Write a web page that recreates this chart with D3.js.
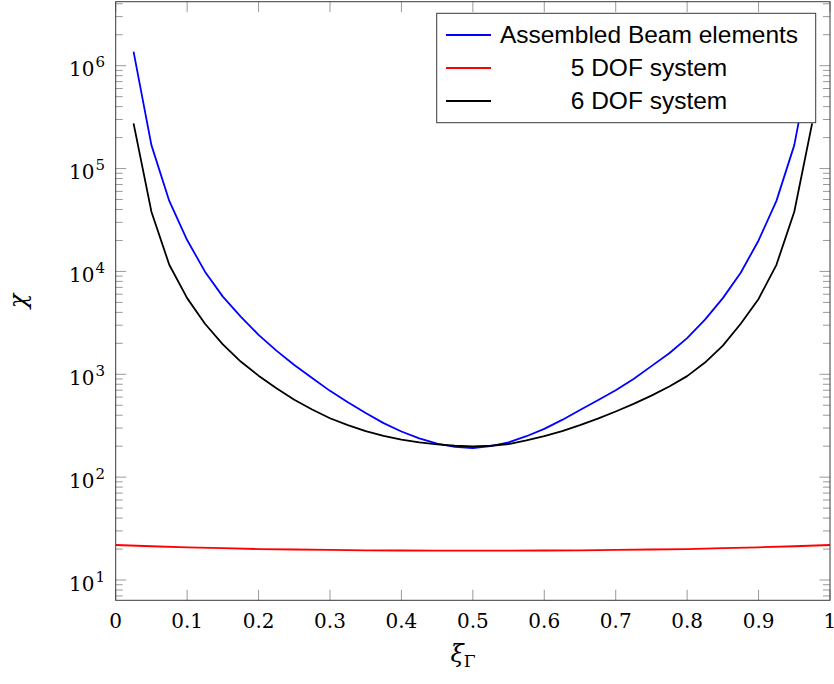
<!DOCTYPE html>
<html>
<head>
<meta charset="utf-8">
<script src="https://cdn.jsdelivr.net/npm/d3@7"></script>
<style>
  html, body { margin: 0; padding: 0; background: #fff; }
  svg { display: block; }
</style>
</head>
<body>
<div id="chart"></div>
<script>
// xi positions of the beam / 6 DOF curves
const xiBeam = [0.025, 0.05, 0.075, 0.1, 0.125, 0.15, 0.175, 0.2, 0.225, 0.25,
  0.275, 0.3, 0.325, 0.35, 0.375, 0.4, 0.425, 0.45, 0.475, 0.5,
  0.525, 0.55, 0.575, 0.6, 0.625, 0.65, 0.675, 0.7, 0.725, 0.75,
  0.775, 0.8, 0.825, 0.85, 0.875, 0.9, 0.925, 0.95, 0.975];
const beamValues = [1.37e6, 1.69e5, 4.84e4, 2.02e4, 9950, 5690, 3640, 2420, 1700, 1230,
  920, 690, 535, 420, 335, 278, 238, 212, 197, 192,
  200, 218, 250, 295, 360, 450, 560, 700, 900, 1200,
  1600, 2250, 3400, 5500, 9700, 2.0e4, 4.85e4, 1.69e5, 1.37e6];
const sixDofValues = [2.75e5, 3.81e4, 1.16e4, 5500, 3100, 1950, 1330, 970, 730, 565,
  455, 374, 320, 280, 252, 232, 218, 208, 202, 199,
  202, 210, 228, 250, 280, 320, 370, 435, 515, 620,
  760, 960, 1300, 1900, 3100, 5400, 1.16e4, 3.8e4, 2.75e5];
// 5 DOF curve
const xiFive = [0, 0.05, 0.1, 0.15, 0.2, 0.25, 0.3, 0.35, 0.4, 0.45, 0.5,
  0.55, 0.6, 0.65, 0.7, 0.75, 0.8, 0.85, 0.9, 0.95, 1];
const fiveDofValues = [21.9, 21.3, 20.8, 20.4, 20.0, 19.8, 19.6, 19.45, 19.35, 19.3, 19.3,
  19.3, 19.35, 19.45, 19.6, 19.8, 20.0, 20.4, 20.8, 21.3, 21.9];

const xTicks = [0, 0.1, 0.2, 0.3, 0.4, 0.5, 0.6, 0.7, 0.8, 0.9, 1];
const yExponents = [1, 2, 3, 4, 5, 6];
const legendLabels = ['Assembled Beam elements', '5 DOF system', '6 DOF system'];
const colors = ['#0000ff', '#ff0000', '#000000'];

const W = 834, H = 684;
const margin = { top: 1.7, right: 4, bottom: 83.7, left: 115.7 };
const w = W - margin.left - margin.right,
  h = H - margin.top - margin.bottom;

const x = d3.scaleLinear().domain([0, 1]).range([0, w]);
const y = d3.scaleLog().domain([6.35, 4.19e6]).range([h, 0]);

const svg = d3.select('#chart').append('svg')
  .attr('width', W).attr('height', H);
const g = svg.append('g')
  .attr('transform', `translate(${margin.left},${margin.top})`);

g.append('defs').append('clipPath').attr('id', 'plotClip')
  .append('rect').attr('width', w).attr('height', h);

// ticks (inward, on all four sides)
const tickColor = '#9a9a9a';
const majorLen = 10.5, minorLen = 7;
const yTickVals = y.ticks(20).filter(v => v >= y.domain()[0] && v <= y.domain()[1]);
const isMajor = v => Math.abs(Math.log10(v) - Math.round(Math.log10(v))) < 1e-9;

const ticks = g.append('g').attr('class', 'ticks')
  .attr('stroke', tickColor).attr('stroke-width', 1);
yTickVals.forEach(v => {
  const len = isMajor(v) ? majorLen : minorLen;
  const yy = y(v);
  ticks.append('line').attr('x1', 0).attr('x2', len).attr('y1', yy).attr('y2', yy);
  ticks.append('line').attr('x1', w).attr('x2', w - len).attr('y1', yy).attr('y2', yy);
});
xTicks.forEach(v => {
  const xx = x(v);
  ticks.append('line').attr('x1', xx).attr('x2', xx).attr('y1', h).attr('y2', h - majorLen);
  ticks.append('line').attr('x1', xx).attr('x2', xx).attr('y1', 0).attr('y2', majorLen);
});

// curves
const line = d3.line().x(d => x(d[0])).y(d => y(d[1]));
const series = [
  d3.zip(xiBeam, beamValues),
  d3.zip(xiFive, fiveDofValues),
  d3.zip(xiBeam, sixDofValues)
];
const curves = g.append('g').attr('clip-path', 'url(#plotClip)');
series.forEach((s, i) => {
  curves.append('path')
    .attr('d', line(s))
    .attr('fill', 'none')
    .attr('stroke', colors[i])
    .attr('stroke-width', 1.8)
    .attr('stroke-linejoin', 'round');
});

// frame
g.append('rect')
  .attr('width', w).attr('height', h)
  .attr('fill', 'none')
  .attr('stroke', '#3a3a3a')
  .attr('stroke-width', 1);

// tick labels
const serif = "'DejaVu Serif', serif";
g.append('g').selectAll('text')
  .data(xTicks).enter().append('text')
  .attr('x', d => x(d))
  .attr('y', h + 27.4)
  .attr('text-anchor', 'middle')
  .attr('font-family', serif)
  .attr('font-size', 20)
  .attr('fill', '#000')
  .text(d => d3.format('~g')(d));

const yLab = g.append('g').selectAll('text')
  .data(yExponents).enter().append('text')
  .attr('x', -10.7)
  .attr('y', d => y(Math.pow(10, d)) + 10.5)
  .attr('text-anchor', 'end')
  .attr('font-family', serif)
  .attr('font-size', 20)
  .attr('fill', '#000');
yLab.append('tspan').text('10');
yLab.append('tspan')
  .attr('dx', 1)
  .attr('dy', -9)
  .attr('font-size', 15)
  .text(d => d);

// axis labels
svg.append('text')
  .attr('transform', 'translate(26,301) rotate(-90)')
  .attr('text-anchor', 'middle')
  .attr('font-family', serif)
  .attr('font-style', 'italic')
  .attr('font-size', 24)
  .text('χ');

const xl = svg.append('text')
  .attr('x', 463)
  .attr('y', 662)
  .attr('text-anchor', 'middle')
  .attr('font-family', serif)
  .attr('font-size', 24);
xl.append('tspan').attr('font-style', 'italic').text('ξ');
xl.append('tspan').attr('font-size', 17).attr('dy', 5).text('Γ');

// legend
const legend = svg.append('g').attr('class', 'legend');
legend.append('rect')
  .attr('x', 436.7).attr('y', 13.3)
  .attr('width', 379).attr('height', 109.4)
  .attr('fill', '#fff')
  .attr('stroke', '#3a3a3a')
  .attr('stroke-width', 1);
const rowY = d3.scalePoint().domain(legendLabels).range([35, 101]);
legendLabels.forEach((lab, i) => {
  legend.append('line')
    .attr('x1', 446).attr('x2', 491)
    .attr('y1', rowY(lab)).attr('y2', rowY(lab))
    .attr('stroke', colors[i]).attr('stroke-width', 1.8);
  legend.append('text')
    .attr('x', 649).attr('y', rowY(lab) + 8.2)
    .attr('text-anchor', 'middle')
    .attr('font-family', "'Liberation Sans', Arial, sans-serif")
    .attr('font-size', 24.5)
    .attr('fill', '#000')
    .text(lab);
});
</script>
</body>
</html>
